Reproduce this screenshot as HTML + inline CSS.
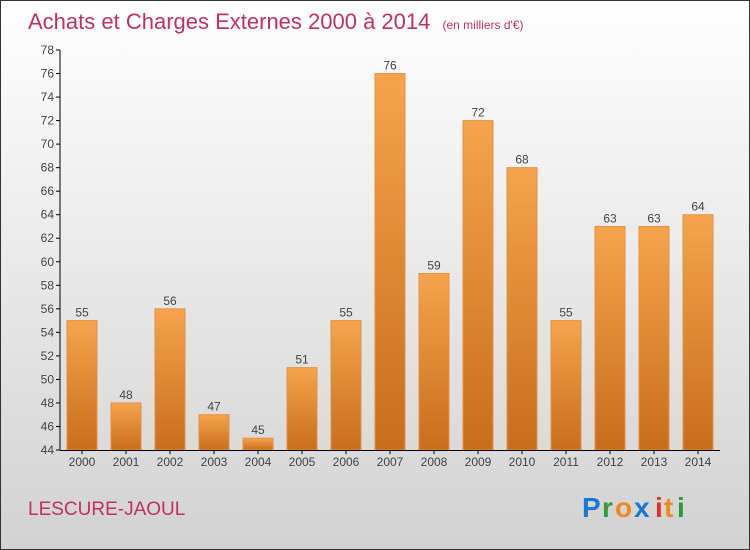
<!DOCTYPE html>
<html><head><meta charset="utf-8"><style>
body{margin:0;}
#c{width:750px;height:550px;position:relative;overflow:hidden;font-family:"Liberation Sans",sans-serif;}
</style></head><body>
<div id="c">
<svg id="s" width="750" height="550" xmlns="http://www.w3.org/2000/svg">
<defs>
<linearGradient id="bg" x1="0" y1="0" x2="0" y2="1"><stop offset="0" stop-color="#ffffff"/><stop offset="1" stop-color="#d2d2d2"/></linearGradient>
<linearGradient id="bar" x1="0" y1="0" x2="0" y2="1"><stop offset="0" stop-color="#f5a44d"/><stop offset="1" stop-color="#c86d1c"/></linearGradient>
</defs>
<rect x="0.5" y="0.5" width="749" height="549" fill="url(#bg)" stroke="#333"/>
<text x="28" y="29" font-size="22" fill="#c0325e">Achats et Charges Externes 2000 à 2014 <tspan font-size="12" dx="6">(en milliers d'€)</tspan></text>
<g id="plot"></g>
<text x="28" y="515" font-size="19" fill="#c0325e">LESCURE-JAOUL</text>
<g font-size="28" font-weight="bold">
<text x="582" y="517" fill="#1a78d0">P</text><text x="602" y="517" fill="#3a9a3a">r</text><text x="615" y="517" fill="#f08a1c">o</text><text x="634" y="517" fill="#1a78d0">x</text><text x="655" y="517" fill="#e03020">i</text><text x="664" y="517" fill="#f08a1c">t</text><text x="677" y="517" fill="#2a9a3a">i</text>
</g>
</svg>
</div>
<script>
const years=["2000","2001","2002","2003","2004","2005","2006","2007","2008","2009","2010","2011","2012","2013","2014"];
const values=[55,48,56,47,45,51,55,76,59,72,68,55,63,63,64];
const yTicks=[44,46,48,50,52,54,56,58,60,62,64,66,68,70,72,74,76,78];
const NS="http://www.w3.org/2000/svg";
const g=document.getElementById('plot');
const x0=60,x1=720,yTop=50,yBot=450,yMin=44,yMax=78;
const y=v=>yBot-(v-yMin)/(yMax-yMin)*(yBot-yTop);
const step=(x1-x0)/years.length;
const xc=i=>x0+step*(i+0.5);
function mk(t,a){const e=document.createElementNS(NS,t);for(const k in a)e.setAttribute(k,a[k]);g.appendChild(e);return e;}
yTicks.forEach(v=>{
 const l=mk('line',{x1:x0-4,x2:x0,y1:y(v),y2:y(v),stroke:'#000'});
 
 
 const t=mk('text',{x:x0-6,y:y(v)+4,'font-size':12,fill:'#444','text-anchor':'end'});
 t.textContent=v;
 
 
});
values.forEach((v,i)=>{
 const r=mk('rect',{x:xc(i)-15,y:y(v),width:30,height:yBot-y(v),fill:'url(#bar)',stroke:'#e8913e','stroke-width':1});
 
 
 const t=mk('text',{x:xc(i),y:y(v)-4,'font-size':12,fill:'#444','text-anchor':'middle'});
 t.textContent=v;
 
 
 const tk=mk('line',{x1:xc(i),x2:xc(i),y1:yBot,y2:yBot+4,stroke:'#000'});
 
 
 const xl=mk('text',{x:xc(i),y:yBot+16,'font-size':12,fill:'#444','text-anchor':'middle'});
 xl.textContent=years[i];
 
 
});
const ya=mk('line',{x1:x0,x2:x0,y1:yTop,y2:yBot,stroke:'#000'});


const xa=mk('line',{x1:x0,x2:x1,y1:yBot+0.5,y2:yBot+0.5,stroke:'#000'});


</script>
</body></html>
